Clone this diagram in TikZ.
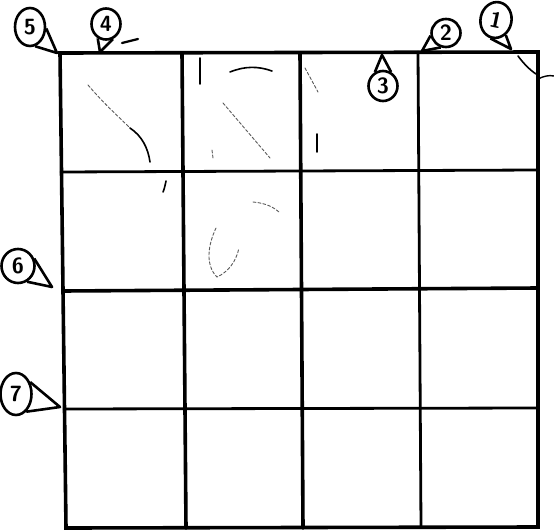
\documentclass[tikz,border=0pt]{standalone}
\usetikzlibrary{shapes.geometric}
\begin{document}
\begin{tikzpicture}[x=1pt,y=-1pt,
  outer/.style={line width=3.6pt, line cap=round},
  inner/.style={line width=2.8pt, line cap=round},
  bubble/.style={draw, ellipse, line width=2.6pt, inner sep=0pt,
    font=\fontsize{22}{22}\selectfont\sffamily\bfseries},
  tail/.style={line width=2.6pt, line join=round},
  faint/.style={line width=0.9pt, black!65, dash pattern=on 3pt off 2pt, line cap=round},
  scrib/.style={line width=1.6pt, black, line cap=round}]
\useasboundingbox (0,0) rectangle (554,532);
\fill[white] (0,0) rectangle (554,532);

% grid corners and line ends
\coordinate (TL) at (60,53);
\coordinate (TR) at (538,52);
\coordinate (BL) at (66,528);
\coordinate (BR) at (538,527);
\coordinate (c1t) at (182,53); \coordinate (c1b) at (186,528);
\coordinate (c2t) at (300,53); \coordinate (c2b) at (303,528);
\coordinate (c3t) at (418,52); \coordinate (c3b) at (421,527);
\coordinate (r1l) at (61,172); \coordinate (r1r) at (538,170);
\coordinate (r2l) at (63,291); \coordinate (r2r) at (538,288);
\coordinate (r3l) at (64,409); \coordinate (r3r) at (538,408);

\draw[outer] (TL) -- (TR) -- (BR) -- (BL) -- cycle;
\draw[outer] (c1t) -- (c1b);
\draw[outer] (c2t) -- (c2b);
\draw[inner] (c3t) -- (c3b);
\draw[inner] (r1l) -- (r1r);
\draw[outer] (r2l) -- (r2r);
\draw[inner] (r3l) -- (r3r);

% callouts
\node[bubble, minimum width=30pt, minimum height=38pt] (b5) at (30,27) {5};
\coordinate (t5) at (57,53);
\draw[tail] (b5.-5) -- (t5) -- (b5.-75);

\node[bubble, minimum width=29pt, minimum height=31pt] (b4) at (106,24) {4};
\coordinate (t4) at (100,52);
\draw[tail] (b4.-120) -- (t4) -- (b4.-65);
\draw[line width=2.2pt, line cap=round] (122,43) -- (138,39);

\node[bubble, minimum width=29pt, minimum height=30pt] (b3) at (383,86) {3};
\coordinate (t3) at (382,55);
\draw[tail] (b3.120) -- (t3) -- (b3.60);

\node[bubble, minimum width=29pt, minimum height=28pt] (b2) at (446,33) {2};
\coordinate (t2) at (422,51);
\draw[tail] (b2.190) -- (t2) -- (b2.250);

\node[bubble, minimum width=31pt, minimum height=36pt, rotate=-12] (b1) at (496,20) {1};
\coordinate (t1) at (511,49);
\draw[tail] (b1.-95) -- (t1) -- (b1.-45);

\node[bubble, minimum width=33pt, minimum height=34pt] (b6) at (18,266) {6};
\coordinate (t6) at (52,287);
\draw[tail] (b6.25) -- (t6) -- (b6.-60);

\node[bubble, minimum width=31pt, minimum height=42pt] (b7) at (16,394) {7};
\coordinate (t7) at (60,407);
\draw[tail] (b7.40) -- (t7) -- (b7.-60);

% faint sketch marks
\draw[faint] (88,85) .. controls (105,105) and (120,118) .. (130,128);
\draw[scrib] (130,128) .. controls (142,136) and (148,148) .. (150,162);
\draw[scrib] (166,181) .. controls (165,186) and (164,190) .. (163,192);
\draw[scrib] (230,72) .. controls (245,66) and (258,66) .. (272,71);
\draw[scrib] (200,58) -- (200,84);
\draw[faint] (223,103) -- (270,158);
\draw[faint] (212,150) -- (213,158);
\draw[faint] (305,68) -- (318,92);
\draw[scrib] (317,134) -- (317,152);
\draw[faint] (253,202) .. controls (265,203) and (274,207) .. (280,213);
\draw[faint] (216,228) .. controls (208,245) and (205,265) .. (217,277)
  .. controls (228,272) and (236,262) .. (239,248);
% top-right stray stroke
\draw[line width=1.6pt, line cap=round] (518,56) .. controls (524,64) and (530,70) .. (536,74);
\draw[line width=1.4pt, line cap=round] (538,79) .. controls (544,76) and (549,75) .. (554,76);
\end{tikzpicture}
\end{document}
